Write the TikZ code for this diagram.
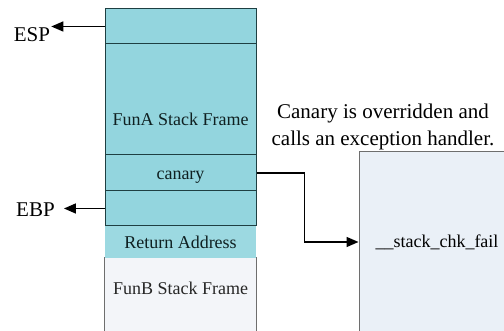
\documentclass[tikz,border=0pt]{standalone}
\usepackage{fontspec}
\setmainfont{Liberation Serif}
\usetikzlibrary{arrows.meta}
\definecolor{stackfill}{HTML}{93D5DE}
\definecolor{retfill}{HTML}{9CD9E1}
\definecolor{stackline}{HTML}{1E3F42}
\definecolor{funbfill}{HTML}{F3F5F9}
\definecolor{chkfill}{HTML}{EAF0F7}
\definecolor{chkline}{HTML}{6E6E6E}
\tikzset{
  slot/.style={draw=stackline,line width=1pt,fill=stackfill,minimum width=151pt,inner sep=0pt,
    font=\fontsize{18}{22}\selectfont,text=stackline!50!black,text height=14pt,text depth=0pt},
  ptr/.style={-{Triangle[length=12pt,width=10pt]},line width=1.5pt},
  reg/.style={font=\fontsize{21}{25}\selectfont,inner sep=1pt},
}
\begin{document}
\begin{tikzpicture}[x=1pt,y=1pt]
\useasboundingbox (0,0) rectangle (504,331);
% Stack
    \node[slot,draw=none,fill=funbfill,minimum height=75pt] (funB) at (180.5,35.5) {};
    \draw[chkline,line width=1pt] (funB.north west) -- (funB.south west) (funB.north east) -- (funB.south east);
    \node[slot,draw=none,fill=none,text=black!85] (funBlbl) at (180.5,43) {FunB Stack Frame};
    \node[slot,draw=none,fill=retfill,minimum height=32pt] (ret) at (180.5,89) {Return Address};
    \node[slot,minimum height=35pt] (gap) at (180.5,122.5) {};
    \node[slot,minimum height=36pt] (canary) at (180.5,158) {canary};
    \node[slot,minimum height=111pt] (funA) at (180.5,231.5) {};
    \node[slot,draw=none,fill=none] (funAlbl) at ([yshift=-19.5pt]funA.center) {FunA Stack Frame};
    \node[slot,minimum height=35pt] (top) at (180.5,304.5) {};
% Handler
    \node[draw=chkline,line width=1pt,fill=chkfill,minimum width=156pt,minimum height=180pt,
      font=\fontsize{18}{22}\selectfont] (chk) at (437,89) {\_\_stack\_chk\_fail};
    \node[font=\fontsize{21}{27}\selectfont,align=center] (note) at (383,204.5) {Canary is overridden and\\calls an exception handler.};
% Registers
    \node[reg] (esp) at (32,296) {ESP};
    \node[reg] (ebp) at (35.5,121) {EBP};
    \draw[ptr] (top.west) -- (esp.east |- top.west);
    \draw[ptr,shorten >=8pt] (gap.west) -- (ebp.east |- gap.west);
% Check
    \draw[ptr] (canary.east) -- ++(48,0) |- (chk.west);
\end{tikzpicture}
\end{document}
